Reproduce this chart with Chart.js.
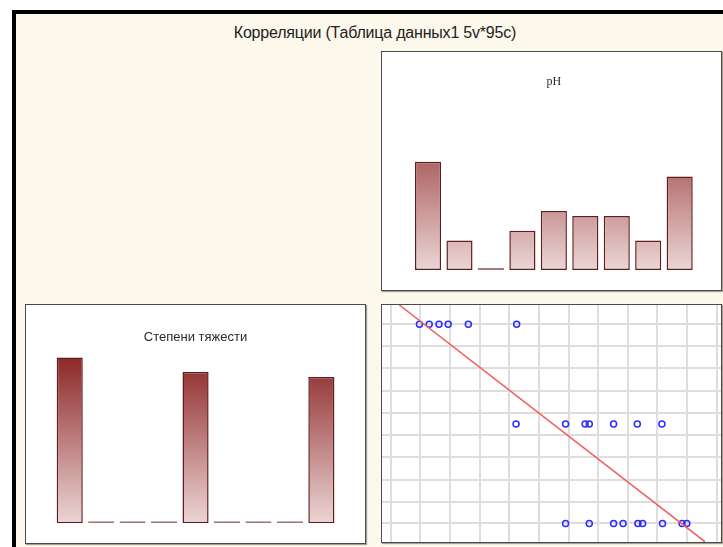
<!DOCTYPE html>
<html>
<head>
<meta charset="utf-8">
<script src="https://cdn.jsdelivr.net/npm/chart.js@4.4.1/dist/chart.umd.min.js"></script>
<style>
  html, body { margin: 0; padding: 0; background: #ffffff; }
  body { width: 723px; height: 547px; position: relative; overflow: hidden; font-family: "Liberation Sans", Arial, sans-serif; }
  #frame {
    position: absolute; left: 12px; top: 10px; width: 760px; height: 600px;
    box-sizing: border-box; border-left: 4px solid #000; border-top: 4px solid #000;
    background: #fdf8ec;
  }
  #mainTitle {
    position: absolute; left: 0; width: 750px; top: 24px; text-align: center;
    font-size: 16px; color: #222222; line-height: 18px; letter-spacing: -0.2px;
  }
  .panel {
    position: absolute; box-sizing: border-box; background: #ffffff;
    border: 1px solid #4a4a4a; box-shadow: 1px 1px 1px rgba(0,0,0,0.35);
  }
  .panel canvas { position: absolute; left: 0; top: 0; }
</style>
</head>
<body>
<div id="frame"></div>
<div id="mainTitle">Корреляции (Таблица данных1 5v*95c)</div>

<div class="panel" style="left:381px; top:51px; width:341px; height:240px;">
  <canvas id="phHist" width="339" height="238" style="width:339px;height:238px"></canvas>
</div>
<div class="panel" style="left:25px; top:304px; width:341px; height:240px;">
  <canvas id="sevHist" width="339" height="238" style="width:339px;height:238px"></canvas>
</div>
<div class="panel" style="left:381px; top:304px; width:341px; height:239px;">
  <canvas id="scatter" width="339" height="237" style="width:339px;height:237px"></canvas>
</div>

<script>
// Histogram bins (9 bins each, 95 cases)
const binLabels = ['1', '2', '3', '4', '5', '6', '7', '8', '9'];
const phCounts = [22, 6, 0, 8, 12, 11, 11, 6, 19];
const severityCounts = [34, 0, 0, 0, 31, 0, 0, 0, 30];

// Scatter: pH (x) against severity level (y), one array per level
const severityLevels = [3, 2, 1];
const phAtLevel3 = [6.997, 7.030, 7.063, 7.094, 7.162, 7.325];
const phAtLevel2 = [7.323, 7.490, 7.556, 7.570, 7.652, 7.732, 7.815];
const phAtLevel1 = [7.490, 7.570, 7.652, 7.684, 7.734, 7.750, 7.817, 7.883, 7.899];

// Fitted regression line endpoints
const fitX = [6.929, 7.960];
const fitY = [3.194, 0.817];

// Grid positions of the scatter cell
const gridX = [6.9, 7.0, 7.1, 7.2, 7.3, 7.4, 7.5, 7.6, 7.7, 7.8, 7.9, 8.0];
const gridY = [1.00, 1.22, 1.44, 1.67, 1.89, 2.11, 2.33, 2.56, 2.78, 3.00];

function barGradient(ctx) {
  const chart = ctx.chart;
  const area = chart.chartArea;
  if (!area) return '#b86a6a';
  const g = chart.ctx.createLinearGradient(0, area.top, 0, area.bottom);
  g.addColorStop(0, '#8a2222');
  g.addColorStop(1, '#ecd5d5');
  return g;
}

function histogram(id, counts, title, titleFont, pad, titlePad) {
  return new Chart(document.getElementById(id), {
    type: 'bar',
    data: {
      labels: binLabels,
      datasets: [{
        data: counts,
        backgroundColor: barGradient,
        borderColor: ctx => (ctx.raw === 0 ? '#a07a7a' : '#621c1c'),
        borderWidth: 1.5,
        borderSkipped: false,
        minBarLength: 2,
        categoryPercentage: 0.83,
        barPercentage: 1.0
      }]
    },
    options: {
      responsive: false,
      animation: false,
      layout: { padding: pad },
      plugins: {
        legend: { display: false },
        tooltip: { enabled: false },
        title: {
          display: true,
          text: title,
          color: '#2a2a2a',
          font: titleFont,
          padding: titlePad
        }
      },
      scales: {
        x: { display: false },
        y: { display: false, min: 0, max: 35 }
      }
    }
  });
}

histogram('phHist', phCounts, 'pH',
  { family: 'Liberation Serif', size: 12, weight: 'normal', lineHeight: 1.2 },
  { left: 30.3, right: 25.6, bottom: 20, top: 0 },
  { top: 22.8, bottom: 8.6 });

histogram('sevHist', severityCounts, 'Степени тяжести',
  { family: 'Liberation Sans', size: 13, weight: 'normal', lineHeight: 1.2 },
  { left: 28, right: 27.9, bottom: 19.7, top: 0 },
  { top: 24.9, bottom: 7 });

function rowPoints(xs, level) {
  return xs.map(x => ({ x: x, y: level }));
}

const scatterPoints = []
  .concat(rowPoints(phAtLevel3, severityLevels[0]))
  .concat(rowPoints(phAtLevel2, severityLevels[1]))
  .concat(rowPoints(phAtLevel1, severityLevels[2]));

new Chart(document.getElementById('scatter'), {
  type: 'scatter',
  data: {
    datasets: [
      {
        data: scatterPoints,
        pointStyle: 'circle',
        pointRadius: 3,
        pointBorderWidth: 1.5,
        pointBorderColor: '#2b2bff',
        pointBackgroundColor: 'rgba(255,255,255,0)',
        order: 1
      },
      {
        type: 'line',
        data: fitX.map((x, i) => ({ x: x, y: fitY[i] })),
        borderColor: '#f25c5c',
        borderWidth: 1.5,
        pointRadius: 0,
        fill: false,
        order: 0
      }
    ]
  },
  options: {
    responsive: false,
    animation: false,
    layout: { padding: 0, autoPadding: false },
    plugins: { legend: { display: false }, tooltip: { enabled: false } },
    scales: {
      x: {
        type: 'linear', min: 6.8707, max: 8.0144,
        ticks: { display: false },
        border: { display: false },
        grid: { color: '#dedede', lineWidth: 2, drawTicks: false },
        afterBuildTicks: s => { s.ticks = gridX.map(v => ({ value: v })); },
        afterFit: s => { s.height = 0; }
      },
      y: {
        type: 'linear', min: 0.814, max: 3.194,
        ticks: { display: false },
        border: { display: false },
        grid: { color: '#dedede', lineWidth: 2, drawTicks: false },
        afterBuildTicks: s => { s.ticks = gridY.map(v => ({ value: v })); },
        afterFit: s => { s.width = 0; }
      }
    }
  }
});
</script>
</body>
</html>
